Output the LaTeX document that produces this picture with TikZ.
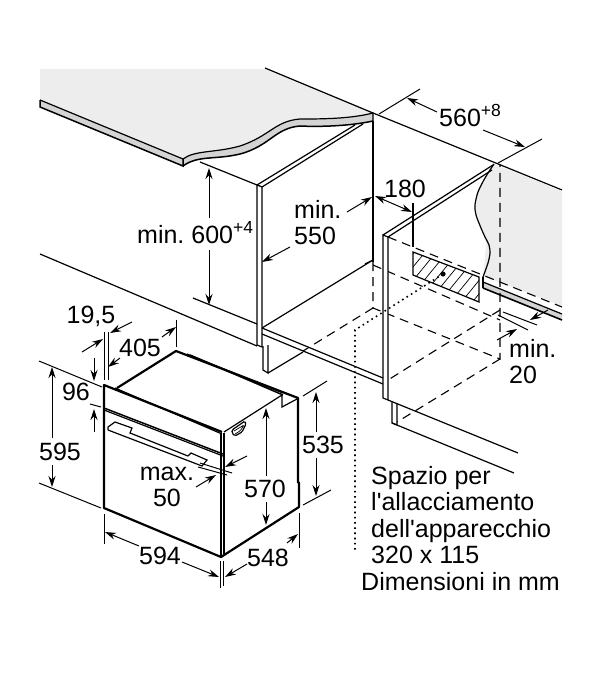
\documentclass[tikz,border=0pt]{standalone}
\usepackage{fontspec}
\setmainfont{Liberation Sans}
\usetikzlibrary{arrows.meta}
\definecolor{worktop}{HTML}{EDEDED}
\definecolor{worktopedge}{HTML}{D4D4D4}
\tikzset{
  dimline/.style={line width=1pt,-{Stealth[length=11pt,width=7pt]}},
  dimboth/.style={line width=1pt,{Stealth[length=11pt,width=7pt]}-{Stealth[length=11pt,width=7pt]}},
  extline/.style={line width=1pt},
  unit/.style={line width=1.2pt},
  hidden/.style={line width=1.1pt,dash pattern=on 9pt off 6pt},
  dots/.style={line width=1.6pt,dash pattern=on 1.6pt off 3.6pt},
  oven/.style={line width=2.2pt,line join=round},
  dimtext/.style={inner sep=0pt,font=\fontsize{25}{26.5}\selectfont\frenchspacing},
}
\newcommand{\dimsup}[1]{\raisebox{10pt}{\fontsize{17.5}{18}\selectfont #1}}
\begin{document}
\begin{tikzpicture}[x=1pt,y=-1pt]
\useasboundingbox[fill=white] (0,0) rectangle (600,688);

\fill[worktop] (40,69) -- (265,69) -- (373,113) .. controls (350,119) and (320,119) .. (300,119)
  .. controls (275,121) and (270,136) .. (240,146) .. controls (215,153) and (195,150) .. (183,159) -- (40,100) -- cycle;
\fill[worktopedge] (40,100) -- (183,159) .. controls (195,150) and (215,153) .. (240,146)
  .. controls (270,136) and (275,121) .. (300,119) .. controls (320,119) and (350,119) .. (373,113)
  -- (373,121) .. controls (350,126) and (320,127) .. (300,126) .. controls (275,128) and (270,146) .. (240,154)
  .. controls (215,160) and (198,155) .. (183,166) -- (40,107) -- cycle;
\draw[unit] (40,100) -- (183,159) .. controls (195,150) and (215,153) .. (240,146)
  .. controls (270,136) and (275,121) .. (300,119) .. controls (320,119) and (350,119) .. (373,113);
\draw[unit,line width=1.5pt] (40,100) -- (40,107) -- (183,166) -- (183,159);
\draw[unit,line width=1.5pt] (183,166) .. controls (198,155) and (215,160) .. (240,154)
  .. controls (270,146) and (275,128) .. (300,126) .. controls (320,127) and (350,126) .. (373,121);
\draw[unit] (265,68) -- (373,113) -- (373,121);
\draw[unit] (373,113) -- (562,190);

\fill[worktop] (494,164) -- (562,191) -- (562,306) -- (483,276) -- (490,253) -- (477,218) -- cycle;
\fill[worktop] plot[smooth] coordinates {(494,164) (485,178) (478,192) (475,205) (476,215) (481,228) (485,237) (489,245) (490,253) (488,263) (483,277)};
\draw[unit] plot[smooth] coordinates {(494,164) (485,178) (478,192) (475,205) (476,215) (481,228) (485,237) (489,245) (490,253) (488,263) (483,277)};
\fill[worktopedge] (483,282) -- (562,314) -- (562,320) -- (483,288) -- cycle;
\draw[unit] (483,277) -- (483,288);
\draw[unit] (483,282) -- (562,314);
\draw[line width=1.6pt] (483,288) -- (562,320);

\draw[hidden] (373,262) -- (373,308) -- (500,359) -- (500,164);
\draw[hidden] (373,265) -- (500,320);
\draw[hidden] (373,308) -- (303,351);
\draw[hidden] (500,310) -- (388,380);
\draw[hidden] (500,359) -- (397,422);
\draw[hidden] (388,237) -- (562,307);

\draw[unit] (200,162) -- (257,185);
\draw[unit] (262,328) -- (373,260) -- (365,264);
\draw[unit] (373,121) -- (373,262);
\draw[unit] (262,187) -- (363,124);
\draw[unit] (257,185) -- (262,187);
\draw[unit] (257,185) -- (355,125);
\draw[unit,fill=white] (257,185) -- (257,345) -- (262,347) -- (262,187) -- cycle;
\draw[unit] (262,328) -- (383,378);
\draw[unit] (262,334) -- (383,384);
\draw[unit] (40,254) -- (257,346);
\draw[unit] (193,298) -- (257,324);
\draw[unit] (263,346) -- (263,370) -- (268,373) -- (268,345);
\draw[unit] (268,373) -- (303,352);

\draw[unit,fill=white] (383,235) -- (383,398) -- (388,400) -- (388,237) -- cycle;
\draw[unit] (383,235) -- (493,165);
\draw[unit] (388,237) -- (492,170);
\draw[unit] (388,400) -- (518,453);
\draw[unit] (392,402) -- (392,423) -- (397,425) -- (397,404);
\draw[unit] (392,423) -- (514,473);

\draw[unit] (413,203) -- (413,247);
\draw[unit] (413,252) -- (479,277) -- (479,302) -- (413,275) -- cycle;
\begin{scope}
\clip (413,252) -- (479,277) -- (479,302) -- (413,275) -- cycle;
\foreach \hatchx in {0,11,...,121}
  \draw[line width=0.7pt] (375+\hatchx,300) -- (420+\hatchx,245);
\end{scope}
\draw[dots] (443,274) -- (355,330) -- (355,550);
\fill (443,274) circle (2.6pt);

% oven
\draw[oven] (117,388) -- (176,351) -- (298,398) -- (298,482) -- (299,483) -- (299,507) -- (221,557) -- (104,508) -- (104,385) -- (222,432);
\draw[unit,line width=1.5pt] (190,355) -- (283,395);
\draw[unit] (187,354) -- (283,393);
\draw[unit] (115,388) -- (222,434);
\draw[unit] (224,432) -- (282,395) -- (282,407) -- (297,399);
\draw[unit,line width=1.5pt] (221,433) -- (221,557);
\draw[unit] (224,433) -- (224,554);
\draw[unit,line width=1.5pt] (104,408) -- (223,454);
\draw[unit] (104,410) -- (223,456);
\draw[unit] (108,430) -- (108,427) -- (115,422) -- (132,428) -- (130,433) -- (188,456);
\draw[unit] (188,456) -- (191,453) -- (207,460) -- (202,466) -- (108,430);
\draw[unit,rounded corners=1.5pt] (232,430) -- (245,421) -- (246,424) -- (242,432) -- (235,436) -- (232,433) -- cycle;
\draw[line width=0.7pt,rounded corners=1pt] (234,431) -- (244,425) -- (240,431) -- (235,434);

% dimensions of the opening
\node[dimtext,anchor=base west] (labelmin600) at (137,243) {min. 600\dimsup{+4}};
\draw[dimline] (209,218) -- (209,168);
\draw[dimline] (209,250) -- (209,305);
\node[dimtext,anchor=north west,align=left] (labelmin550) at (294,200) {min.\\550};
\draw[dimline] (290,247) -- (262,262);
\draw[dimline] (347,212) -- (372,197);
\node[dimtext,anchor=base] (label180) at (405,197) {180};
\draw[dimboth] (375,196) -- (412,212);
\node[dimtext,anchor=base west] (label560) at (439,126) {560\dimsup{+8}};
\draw[extline] (379,114) -- (420,89);
\draw[extline] (498,163) -- (542,139);
\draw[dimline] (437,112) -- (407,98);
\draw[dimline] (483,130) -- (525,147);
\draw[extline] (503,312) -- (537,325);
\draw[extline] (498,315) -- (528,330);
\draw[dimline] (548,310) -- (530,320);
\draw[dimline] (497,340) -- (517,329);
\node[dimtext,anchor=north west,align=left] (labelmin20) at (509,339) {min.\\20};
\node[dimtext,anchor=north west,align=left] (labelspace) at (371,466) {Spazio per\\l\textquotesingle allacciamento\\dell\textquotesingle apparecchio\\320 x 115};
\node[dimtext,anchor=base west] (labelunits) at (361,590) {Dimensioni in mm};

% dimensions of the oven
\node[dimtext] (label195) at (91,316) {19,5};
\draw[extline] (104,332) -- (104,380);
\draw[extline] (108,332) -- (108,380);
\draw[dimline] (82,352) -- (103,339);
\draw[dimline] (132,322) -- (110,333);
\node[dimtext] (label405) at (140,348) {405};
\draw[extline] (176,320) -- (176,347);
\draw[dimline] (120,358) -- (108,367);
\draw[dimline] (162,337) -- (176,327);
\node[dimtext] (label96) at (76,392) {96};
\draw[dimline] (94,358) -- (94,381);
\draw[dimline] (94,432) -- (94,409);
\draw[extline] (90,404) -- (101,407);
\draw[extline] (39,361) -- (102,387);
\draw[extline] (39,483) -- (101,508);
\node[dimtext] (label595) at (60,452) {595};
\draw[dimline] (52,438) -- (52,367);
\draw[dimline] (52,465) -- (52,487);
\node[dimtext] (label594) at (160,556) {594};
\draw[extline] (104,514) -- (104,544);
\draw[extline] (220,561) -- (220,588);
\draw[extline] (223,561) -- (223,586);
\draw[dimline] (139,546) -- (105,532);
\draw[dimline] (182,562) -- (219,577);
\node[dimtext] (label548) at (268,558) {548};
\draw[extline] (299,513) -- (299,548);
\draw[dimline] (247,564) -- (225,577);
\draw[dimline] (287,543) -- (298,534);
\node[dimtext] (label535) at (323,445) {535};
\draw[extline] (303,396) -- (327,381);
\draw[extline] (303,505) -- (331,490);
\draw[dimline] (316,432) -- (316,392);
\draw[dimline] (316,458) -- (316,496);
\node[dimtext] (label570) at (265,489) {570};
\draw[dimline] (266,476) -- (266,408);
\draw[dimline] (266,502) -- (266,525);
\node[dimtext,align=center] (labelmax50) at (167,487) {max.\\50};
\draw[extline] (200,463) -- (232,473);
\draw[extline] (198,467) -- (227,475);
\draw[dimline] (247,456) -- (225,467);
\draw[dimline] (196,487) -- (216,475);
\end{tikzpicture}
\end{document}
